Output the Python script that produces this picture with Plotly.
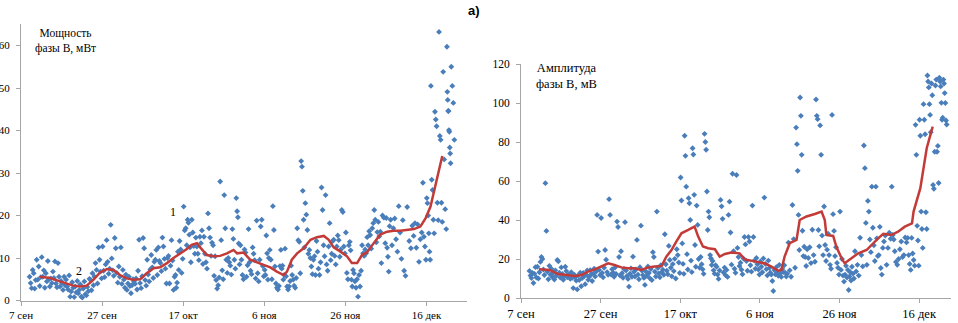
import plotly.graph_objects as go
from datetime import datetime, timedelta

# ---------------- data ----------------
origin = datetime(2013, 9, 7)          # 7 сен = day 0
first_day = 2                          # first measurement day (9 сен)

tick_days = [0, 20, 40, 60, 80, 100]
tick_text = ["7 сен", "27 сен", "17 окт", "6 ноя", "26 ноя", "16 дек"]

# Мощность фазы В, мВт — one row per day, starting at 9 сен
power_B = [
    [5.6, 4.1, 2.9, 7.2],   # d2
    [6.4, 2.8, 4.8, 9.6],
    [4.9, 8.0, 3.4, 5.5],
    [10.2, 5.6, 7.1, 3.0],
    [6.4, 4.5, 9.3, 5.0],
    [3.3, 5.2, 4.1, 6.8],
    [5.3, 9.2, 4.0, 3.1],
    [8.8, 5.6, 3.3, 4.6],
    [4.1, 2.5, 5.6, 3.6],   # d10
    [4.9, 3.3, 2.6, 5.9],
    [0.9, 2.1, 4.3, 3.0],
    [0.8, 3.3, 1.9, 4.6],
    [1.7, 2.5, 3.8, 0.9],
    [0.7, 2.8, 4.5, 1.5],
    [1.2, 3.2, 2.2, 5.1],
    [4.9, 2.4, 6.4, 3.6],
    [5.6, 8.8, 7.2, 4.0],
    [12.5, 9.6, 6.8, 5.2],
    [12.7, 7.0, 5.5, 8.5],  # d20
    [14.2, 9.1, 6.3, 7.5],
    [17.8, 9.9, 7.1, 5.8],
    [14.7, 12.3, 6.5, 4.2],
    [8.0, 5.6, 12.5, 3.9],
    [7.2, 4.9, 3.0, 6.1],
    [2.5, 4.0, 5.6, 3.4],
    [1.7, 3.6, 5.0, 4.4],
    [3.9, 5.2, 2.6, 7.0],
    [14.3, 4.1, 2.9, 5.7],
    [14.7, 12.3, 4.8, 3.5], # d30
    [9.6, 6.1, 4.5, 7.3],
    [10.7, 7.8, 5.3, 9.1],
    [9.6, 11.9, 6.0, 12.5],
    [9.3, 8.8, 6.9, 14.8],
    [12.7, 9.8, 7.5, 4.0],
    [10.0, 10.5, 4.0, 8.2],
    [14.2, 9.4, 2.5, 5.6],
    [6.0, 3.0, 4.2, 11.5, 7.2],
    [14.0, 12.0, 6.5, 9.8],
    [22.1, 16.5, 17.0, 13.0],        # d40
    [19.0, 18.3, 15.5, 12.5, 9.0],
    [19.0, 16.0, 12.8, 11.0],
    [14.8, 12.7, 11.0, 9.5],
    [15.0, 13.5, 16.5, 8.6],
    [15.0, 11.0, 9.0, 7.5],
    [20.5, 17.0, 14.8, 10.5],
    [13.6, 13.0, 5.8, 10.4],
    [4.8, 2.8, 3.6, 5.4],
    [28.0, 14.2, 7.1, 5.0],
    [24.8, 17.0, 9.6, 6.5],          # d50
    [10.0, 9.0, 8.2, 6.1],
    [16.8, 14.5, 9.6, 7.5],
    [24.1, 21.0, 19.6, 13.4, 8.5],
    [13.0, 9.6, 6.0, 5.0],
    [12.0, 11.3, 5.6, 8.3],
    [16.8, 9.0, 7.0, 6.2],
    [12.5, 11.0, 9.5, 5.2],
    [18.8, 6.4, 4.5, 9.6],
    [17.4, 19.0, 8.1, 5.7],
    [7.2, 6.0, 15.3, 11.1, 4.9],     # d60
    [10.0, 11.9, 9.6, 5.0],
    [22.2, 16.6, 8.0, 4.0],
    [3.0, 2.6, 3.4, 8.1],
    [11.9, 7.5, 8.2, 4.9, 6.0],
    [12.2, 5.7, 3.3, 2.6],
    [3.3, 4.6, 8.2, 6.0],
    [4.9, 3.5, 3.0, 5.3],
    [17.0, 14.2, 13.8, 6.4],
    [32.8, 31.5, 25.8, 19.0, 12.5],
    [22.9, 20.2, 16.6, 11.0],        # d70
    [11.9, 10.0, 8.0, 6.2],
    [9.6, 10.4, 6.0, 14.0],
    [11.5, 7.5, 6.0, 9.0],
    [26.6, 21.3, 13.0, 10.4],
    [24.8, 8.5, 7.0, 12.7],
    [18.2, 9.5, 11.0, 14.0],
    [14.3, 10.5, 8.5, 12.7],
    [15.3, 14.2, 10.3, 12.0],
    [21.3, 20.8, 12.7, 11.1],
    [16.0, 6.5, 5.0, 13.0],          # d80
    [13.8, 11.8, 4.9, 3.3, 7.2],
    [6.4, 4.5, 3.0, 5.0],
    [0.9, 6.0, 3.3, 7.0],
    [13.0, 11.1, 10.5, 12.0],
    [11.1, 14.9, 13.0, 16.3],
    [15.4, 12.2, 17.0, 18.2],
    [21.3, 19.0, 13.7, 16.1],
    [18.5, 15.1, 16.2, 8.8],
    [20.0, 19.5, 13.5],
    [19.4, 12.4, 10.3, 6.8, 17.5],   # d90
    [19.0, 13.0, 17.0],
    [19.3, 14.4, 11.5],
    [22.2, 16.0, 9.8],
    [18.9, 7.0, 5.8],
    [22.0, 14.0],
    [12.3, 17.6, 15.2],
    [18.2, 12.4, 17.9],
    [9.1, 14.4, 16.0],
    [27.7, 15.0, 12.7, 9.6],
    [24.1, 22.9, 20.0, 15.8, 11.5, 9.6],   # d100
    [50.5, 28.4, 26.0, 19.0, 15.8],
    [44.4, 42.6, 41.0, 23.0, 18.9],
    [63.2, 38.7, 37.8, 23.0, 18.5],
    [53.8, 33.2, 21.5, 16.8],
    [59.7, 49.1, 47.2, 44.6, 44.6, 40.1, 39.7, 36.0, 34.6, 32.3],
    [55.0, 50.5, 46.5, 37.8],        # d106
]

power_trend_day = [4.7, 7.2, 9.6, 11.3, 12.9, 14.6, 16.2, 17.9, 19.5, 21.2, 22.8, 24.4,
                   26.1, 27.7, 29.4, 31.0, 32.7, 34.3, 36.0, 37.6, 39.3, 40.9, 42.1, 43.4,
                   44.2, 45.8, 47.5, 49.1, 50.8, 52.4, 53.3, 54.9, 56.5, 58.2, 59.8, 61.5,
                   63.1, 64.8, 65.6, 66.8, 68.1, 69.7, 71.4, 73.0, 74.7, 75.9, 77.1, 78.8,
                   80.4, 81.6, 82.9, 84.1, 85.3, 87.0, 88.6, 90.3, 91.9, 93.6, 95.2, 96.9,
                   98.5, 99.8, 101.0, 102.2, 103.9]
power_trend = [5.6, 5.3, 4.5, 3.9, 3.5, 3.3, 3.5, 4.9, 6.6, 7.4, 7.2, 6.0,
               5.2, 4.9, 5.0, 6.4, 7.6, 7.8, 8.8, 10.0, 11.1, 12.1, 13.1, 13.5,
               12.5, 10.7, 10.4, 10.5, 11.1, 11.9, 11.1, 11.3, 9.6, 8.9, 8.4, 7.8,
               6.8, 6.0, 6.8, 9.6, 11.1, 12.3, 14.3, 14.9, 15.2, 14.3, 12.5, 11.5,
               10.4, 8.8, 8.8, 10.7, 11.3, 13.5, 15.5, 16.2, 16.4, 16.4, 16.6, 16.8,
               17.4, 19.4, 22.1, 26.8, 34.0]

# Амплитуда фазы В, мВ — one row per day, starting at 9 сен
amp_B = [
    [13.9, 11.5, 10.2, 12.8],   # d2
    [7.7, 12.4, 15.8, 10.5],
    [16.0, 10.0, 13.2, 18.5],
    [21.0, 20.0, 14.6, 11.8],
    [58.9, 34.4, 13.5, 9.6],
    [16.5, 12.0, 15.0, 10.8],
    [12.9, 9.5, 14.2, 11.4],
    [19.5, 18.8, 13.0, 10.5],
    [15.7, 12.3, 9.3, 11.2],    # d10
    [16.0, 13.8, 10.6, 12.0],
    [11.7, 9.9, 13.2, 10.3],
    [5.1, 12.0, 10.5, 8.9],
    [4.4, 11.6, 9.2, 13.0],
    [6.0, 10.2, 12.9, 11.1],
    [7.1, 11.9, 14.1, 9.3],
    [10.8, 14.3, 12.2, 8.7],
    [12.5, 15.0, 11.0, 13.6],
    [42.6, 23.8, 14.4, 11.8],
    [41.0, 12.8, 10.6, 15.5],   # d20
    [24.6, 19.6, 13.3, 11.9],
    [50.7, 42.6, 12.0, 14.8],
    [13.1, 10.9, 15.6, 12.4],
    [39.2, 36.4, 21.0, 11.5],
    [24.0, 12.7, 10.4, 14.9],
    [38.9, 14.1, 11.3, 9.8],
    [5.8, 12.5, 15.2, 10.9],
    [21.2, 13.4, 11.0, 14.6],
    [29.8, 12.0, 9.6, 15.8],
    [37.1, 14.0, 11.7, 10.3],   # d30
    [6.7, 13.6, 11.4, 16.2],
    [12.8, 10.1, 14.9, 9.2],
    [23.5, 21.0, 13.5, 11.0],
    [44.3, 15.4, 12.6, 10.6],
    [16.8, 13.2, 14.5, 11.9],
    [32.7, 17.3, 14.0, 12.2],
    [26.7, 19.5, 15.5, 11.1],
    [17.4, 13.8, 20.1, 10.0],
    [25.0, 22.0, 18.2, 12.8],
    [61.8, 50.0, 28.0, 17.5, 12.4],   # d40
    [83.2, 72.9, 57.1, 22.5, 14.6],
    [51.2, 48.6, 40.0, 19.2, 13.3],
    [76.8, 73.6, 52.9, 27.2, 16.0],
    [47.4, 37.5, 20.0, 15.5],
    [21.0, 17.3, 14.7, 12.4],
    [84.2, 80.0, 76.0, 54.6, 34.9],
    [44.3, 41.4, 22.0, 20.4, 16.9],
    [19.0, 14.2, 12.5, 16.8],
    [16.0, 12.0, 9.8, 14.1],
    [50.3, 47.0, 40.6, 13.1],         # d50
    [15.6, 11.7, 14.4, 10.8],
    [42.6, 49.4, 33.6, 17.1],
    [63.7, 24.0, 15.0, 12.9],
    [63.1, 25.7, 21.0, 16.4],
    [18.1, 14.5, 12.2, 20.2],
    [31.3, 27.5, 19.0, 14.0],
    [31.3, 29.0, 16.8, 13.5],
    [47.4, 31.3, 19.2, 15.0],
    [20.5, 17.3, 14.6, 12.0],
    [18.7, 16.0, 13.2, 20.3],         # d60
    [51.5, 17.5, 14.8, 11.6],
    [19.2, 15.4, 13.0, 12.0],
    [8.7, 3.6, 14.3, 12.1],
    [15.8, 13.1, 11.4, 17.0],
    [12.6, 10.8, 14.9, 13.3],
    [16.8, 13.0, 11.0, 12.4],
    [28.4, 14.2, 10.9],
    [47.7, 30.2, 15.5],
    [87.4, 78.9, 65.2, 42.6, 24.6],
    [102.8, 93.4, 73.4, 34.5, 21.5],  # d70
    [26.3, 21.0, 16.4, 25.0],
    [20.5, 26.0, 17.9],
    [35.0, 22.0, 18.6],
    [101.8, 93.4, 91.7, 34.9, 26.5],
    [88.5, 73.4, 32.0, 22.0],
    [46.9, 27.2, 19.0, 24.8],
    [33.0, 22.0, 17.0, 15.0],
    [93.9, 43.0, 34.4, 21.5],
    [26.0, 18.0, 15.5, 12.0],
    [44.3, 14.4, 20.0, 11.5],         # d80
    [8.4, 12.0, 16.5, 10.5],
    [14.4, 4.1, 11.0, 13.2, 9.0],
    [16.0, 12.5, 10.0, 24.0],
    [13.6, 17.0, 11.5],
    [30.9, 22.0, 16.2],
    [78.2, 66.6, 38.5, 17.0],
    [49.8, 44.3, 30.0, 23.5],
    [57.1, 36.0, 27.0, 19.0],
    [57.1, 30.6, 21.5, 22.0],
    [36.5, 15.4, 12.0, 25.7],         # d90
    [29.0, 32.0, 17.0],
    [25.7, 33.5, 30.4],
    [57.1, 32.3, 30.0, 24.0],
    [18.5, 17.0, 20.0],
    [25.0, 29.0, 21.0],
    [22.0, 31.0, 28.5],
    [30.8, 22.0, 17.5, 14.4],
    [30.8, 22.8, 19.5, 16.6],
    [88.8, 73.4, 37.0, 29.5, 16.6],
    [91.4, 83.2, 44.3, 35.4, 25.7],   # d100
    [99.4, 91.4, 84.0, 44.0, 35.4],
    [114.1, 111.0, 108.0, 99.4, 93.9, 85.0],
    [110.0, 104.0, 58.0, 56.0, 75.0],
    [109.0, 112.0, 75.0, 78.0, 59.0],
    [113.0, 111.0, 108.5, 100.1, 91.4, 92.5],
    [112.0, 110.0, 105.1, 100.0, 91.0, 89.0],   # d106
]

amp_trend_day = [4.5, 7.2, 9.3, 11.4, 13.5, 15.2, 16.8, 18.5, 20.2, 21.9, 23.5, 25.2,
                 26.9, 28.6, 30.2, 31.9, 33.6, 35.3, 36.5, 37.8, 39.0, 40.3, 42.0, 43.6,
                 44.5, 45.7, 47.0, 48.7, 49.9, 51.2, 52.8, 54.9, 56.2, 57.9, 59.5, 61.2,
                 62.9, 64.6, 65.4, 66.2, 67.5, 69.2, 70.0, 71.7, 73.8, 75.5, 76.3, 76.7,
                 78.4, 79.2, 80.5, 81.3, 83.0, 84.7, 86.8, 88.4, 89.7, 91.0, 93.0, 94.7,
                 96.4, 98.2, 98.6, 100.3, 101.9, 103.4]
amp_trend = [14.8, 14.4, 12.3, 11.8, 11.3, 11.8, 13.5, 14.7, 16.1, 17.8, 16.9, 15.7,
             15.2, 15.2, 14.4, 15.7, 16.1, 16.4, 21.2, 24.6, 28.9, 33.2, 34.9, 36.6,
             31.5, 26.4, 25.5, 25.0, 21.2, 22.6, 23.3, 22.9, 19.8, 19.2, 18.7, 17.8,
             16.1, 14.0, 14.4, 21.2, 28.1, 29.8, 40.0, 41.8, 43.1, 44.3, 40.0, 32.3,
             31.8, 26.4, 20.4, 17.8, 20.4, 22.9, 24.6, 28.1, 30.6, 32.9, 32.3, 34.0,
             36.6, 38.3, 44.3, 56.3, 76.8, 87.9]

assert len(power_B) == 105 and len(amp_B) == 105

# ---------------- helpers ----------------
def to_date(d):
    return origin + timedelta(days=d)

def daily_points(rows):
    xs, ys = [], []
    for k, vals in enumerate(rows):
        n = len(vals)
        for i, v in enumerate(vals):
            xs.append(to_date(first_day + k + (i + 0.5) / n))
            ys.append(v)
    return xs, ys

BLUE = "#4a7ebb"
RED = "#c33b38"
AXIS = "#a6a6a6"
SERIF = "Liberation Serif"

px, py = daily_points(power_B)
ax, ay = daily_points(amp_B)

fig = go.Figure()
fig.add_trace(go.Scatter(x=px, y=py, mode="markers", xaxis="x", yaxis="y",
                         marker=dict(symbol="diamond", size=4.5, color=BLUE, line=dict(width=0)),
                         showlegend=False, hoverinfo="skip"))
fig.add_trace(go.Scatter(x=[to_date(d) for d in power_trend_day], y=power_trend, mode="lines",
                         xaxis="x", yaxis="y", line=dict(color=RED, width=2.5),
                         showlegend=False, hoverinfo="skip"))
fig.add_trace(go.Scatter(x=ax, y=ay, mode="markers", xaxis="x2", yaxis="y2",
                         marker=dict(symbol="diamond", size=4.5, color=BLUE, line=dict(width=0)),
                         showlegend=False, hoverinfo="skip"))
fig.add_trace(go.Scatter(x=[to_date(d) for d in amp_trend_day], y=amp_trend, mode="lines",
                         xaxis="x2", yaxis="y2", line=dict(color=RED, width=2.5),
                         showlegend=False, hoverinfo="skip"))

W, H = 958, 323

def xax(domain, end_day, anchor, fsize):
    return dict(domain=domain, anchor=anchor, type="date", automargin=False,
                range=[to_date(0), to_date(end_day)],
                tickvals=[to_date(d) for d in tick_days], ticktext=tick_text,
                showline=True, linecolor=AXIS, linewidth=1,
                ticks="outside", ticklen=4, tickcolor=AXIS,
                showgrid=False, zeroline=False,
                tickfont=dict(family=SERIF, size=fsize, color="#000"))

def yax(domain, rng, dtick, anchor, fsize):
    return dict(domain=domain, anchor=anchor, range=rng, automargin=False,
                tickmode="linear", tick0=0, dtick=dtick,
                showline=True, linecolor=AXIS, linewidth=1,
                ticks="outside", ticklen=4, tickcolor=AXIS,
                ticklabelstandoff=4,
                showgrid=False, zeroline=False,
                tickfont=dict(family=SERIF, size=fsize, color="#000"))

fig.update_layout(
    width=W, height=H,
    margin=dict(l=0, r=0, t=0, b=0, pad=0, autoexpand=False),
    paper_bgcolor="white", plot_bgcolor="white",
    xaxis=xax([21 / W, 467 / W], 110, "y", 11),
    yaxis=yax([(H - 300.5) / H, (H - 24.25) / H], [0, 65], 10, "x", 11),
    xaxis2=xax([521 / W, 951 / W], 108, "y2", 12.5),
    yaxis2=yax([(H - 298) / H, (H - 64) / H], [0, 120], 20, "x2", 11.5),
    annotations=[
        dict(text="<b>а)</b>", x=474 / W, y=(H - 11) / H, xref="paper", yref="paper",
             showarrow=False, xanchor="center", yanchor="middle",
             font=dict(family="Liberation Sans", size=13, color="#000")),
        dict(text="Мощность<br>фазы В, мВт", x=65 / W, y=(H - 40.5) / H, xref="paper", yref="paper",
             showarrow=False, xanchor="center", yanchor="middle", align="center",
             font=dict(family=SERIF, size=11.5, color="#000")),
        dict(text="Амплитуда<br>фазы В, мВ", x=566 / W, y=(H - 76.5) / H, xref="paper", yref="paper",
             showarrow=False, xanchor="center", yanchor="middle", align="center",
             font=dict(family=SERIF, size=12.5, color="#000")),
        dict(text="1", x=173 / W, y=(H - 212) / H, xref="paper", yref="paper",
             showarrow=False, xanchor="center", yanchor="middle",
             font=dict(family=SERIF, size=12, color="#000")),
        dict(text="2", x=79 / W, y=(H - 271) / H, xref="paper", yref="paper",
             showarrow=False, xanchor="center", yanchor="middle",
             font=dict(family=SERIF, size=12, color="#000")),
    ],
)

fig.write_html(
    "out.html",
    config={"displayModeBar": False},
    post_script="document.body.style.margin='0';document.body.style.padding='0';"
                "document.documentElement.style.overflow='hidden';",
)
